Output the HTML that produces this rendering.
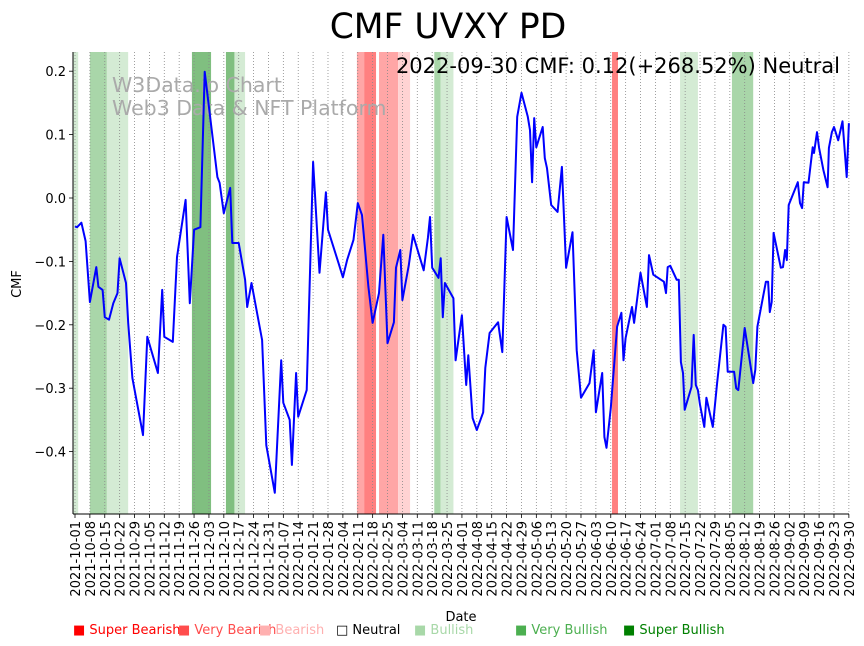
<!DOCTYPE html>
<html><head><meta charset="utf-8"><style>
html,body{margin:0;padding:0;background:#fff;width:864px;height:646px;overflow:hidden}
svg{display:block;font-family:"DejaVu Sans","Liberation Sans",sans-serif}
</style></head><body>
<svg id="chart" width="864" height="646" viewBox="0 0 864 646" xmlns="http://www.w3.org/2000/svg">
<text x="448" y="38" text-anchor="middle" font-size="34.5" fill="#000">CMF UVXY PD</text>
<g id="bands"></g>
<g id="grid"></g>
<text x="112" y="92" font-size="20.5" fill="#aaa">W3Data.io Chart</text>
<text x="112" y="115" font-size="20.5" fill="#aaa">Web3 Data &amp; NFT Platform</text>
<g id="series"></g>
<text x="840" y="73" text-anchor="end" font-size="21" fill="#000">2022-09-30 CMF: 0.12(+268.52%) Neutral</text>
<g id="axes"></g>
<text x="461" y="621" text-anchor="middle" font-size="13">Date</text>
<text transform="translate(21,284) rotate(-90)" text-anchor="middle" font-size="13">CMF</text>
<g id="legend" font-size="13">
<text x="73" y="634" fill="#ff0000">■ Super Bearish</text>
<text x="178" y="634" fill="#ff4c4c">■ Very Bearish</text>
<text x="259" y="634" fill="#ffb0b0">■ Bearish</text>
<text x="336" y="634" fill="#000">□ Neutral</text>
<text x="414" y="634" fill="#a8d8a8">■ Bullish</text>
<text x="515" y="634" fill="#4caf50">■ Very Bullish</text>
<text x="623" y="634" fill="#008000">■ Super Bullish</text>
</g>
</svg>
<script>
const days = [0,1,3,5,7,10,11,13,14,16,18,20,21,24,25,27,32,34,39,41,42,46,48,52,54,56,59,61,67,68,70,73,74,77,80,81,83,88,90,94,97,98,101,102,104,105,109,112,115,118,119,124,126,128,131,133,135,138,140,143,145,147,150,151,153,154,157,159,164,166,167,168,171,172,173,174,178,179,182,184,185,187,189,192,193,195,199,201,203,206,208,210,213,214,215,216,217,220,221,222,224,227,229,231,234,236,238,242,244,245,248,249,250,252,255,257,258,259,262,263,266,269,270,272,277,278,278.8,280,283,284,285,286,286.8,290,291,292,293,294,296,297,300,302,305,306,307,310,311,312,315,317,319,320,321,325,326,326.8,327.7,328.6,332,333,334,334.8,335.7,340,341,342,342.8,345,347,347.6,349,350,352,354,354.6,356,357,359,361,363,364];
const cmfValues = [-0.045,-0.046,-0.039,-0.068,-0.164,-0.109,-0.140,-0.145,-0.188,-0.192,-0.166,-0.150,-0.095,-0.134,-0.197,-0.284,-0.374,-0.219,-0.276,-0.145,-0.219,-0.227,-0.093,-0.003,-0.166,-0.050,-0.046,0.199,0.033,0.024,-0.024,0.016,-0.071,-0.071,-0.129,-0.172,-0.134,-0.224,-0.390,-0.465,-0.256,-0.323,-0.350,-0.421,-0.276,-0.345,-0.303,0.057,-0.118,0.009,-0.050,-0.103,-0.125,-0.098,-0.066,-0.008,-0.027,-0.140,-0.197,-0.150,-0.058,-0.229,-0.196,-0.110,-0.082,-0.161,-0.106,-0.058,-0.114,-0.063,-0.030,-0.110,-0.126,-0.095,-0.188,-0.134,-0.158,-0.256,-0.185,-0.295,-0.248,-0.347,-0.366,-0.338,-0.268,-0.213,-0.196,-0.243,-0.030,-0.082,0.128,0.166,0.128,0.107,0.025,0.126,0.080,0.112,0.063,0.047,-0.011,-0.022,0.049,-0.110,-0.054,-0.240,-0.315,-0.292,-0.240,-0.338,-0.276,-0.377,-0.394,-0.331,-0.203,-0.181,-0.256,-0.221,-0.172,-0.197,-0.118,-0.172,-0.090,-0.121,-0.132,-0.150,-0.109,-0.107,-0.129,-0.129,-0.259,-0.276,-0.334,-0.298,-0.216,-0.295,-0.303,-0.326,-0.361,-0.315,-0.361,-0.292,-0.200,-0.203,-0.274,-0.274,-0.300,-0.303,-0.205,-0.248,-0.292,-0.271,-0.203,-0.132,-0.132,-0.180,-0.164,-0.055,-0.110,-0.109,-0.082,-0.098,-0.011,0.025,-0.008,-0.016,0.025,0.024,0.080,0.071,0.104,0.079,0.044,0.017,0.079,0.104,0.112,0.091,0.121,0.033,0.118];
const bandStart = [-1,7,15,55,71,75,132.6,136,143,152,169,172,252.6,284.6,309];
const bandEnd = [1.5,15,25,64,75,80,136,141.6,152,157.6,172,178,255.4,293,319];
const bandLevel = [1,2,1,3,3,1,-2,-3,-2,-1,2,1,-3,1,2];
const yTicks = [0.2,0.1,0.0,-0.1,-0.2,-0.3,-0.4];
const startDate = new Date(Date.UTC(2021,9,1));
const tickCount = 53;

const NS='http://www.w3.org/2000/svg';
const X0=75, XPD=2.126, Y0=198, YPU=634, TOP=52, BOT=514, LEFT=73;
const xs = d => X0 + d*XPD;
const ys = v => Y0 - v*YPU;
const bandColor = {'-3':'#ff8080','-2':'#ffa6a6','-1':'#ffd3d3','1':'#d4ebd4','2':'#a9d6a9','3':'#80bf80'};
function mk(tag, attrs, parent){const e=document.createElementNS(NS,tag);for(const k in attrs)e.setAttribute(k,attrs[k]);parent.appendChild(e);return e;}

const bands=document.getElementById('bands');
bandStart.forEach((s,i)=>{
  const r=mk('rect',{x:xs(s),y:TOP,width:xs(bandEnd[i])-xs(s),height:BOT-TOP,fill:bandColor[bandLevel[i]]},bands);
  
  
});

const grid=document.getElementById('grid');
const axes=document.getElementById('axes');
for(let i=0;i<tickCount;i++){
  const d=i*7, x=xs(d);
  const gl=mk('line',{x1:x,y1:TOP,x2:x,y2:BOT,stroke:'#888','stroke-width':0.8,'stroke-dasharray':'1,2'},grid);
  
  
  const t=mk('line',{x1:x,y1:BOT,x2:x,y2:BOT+4,stroke:'#000','stroke-width':0.8},axes);
  
  
  const dt=new Date(startDate.getTime()+d*86400000);
  const lab=dt.toISOString().slice(0,10);
  const tx=mk('text',{transform:`translate(${x+5},${BOT+7}) rotate(-90)`,'text-anchor':'end','font-size':13},axes);
  tx.textContent=lab;
  
  
}
yTicks.forEach(v=>{
  const y=ys(v);
  const t=mk('line',{x1:LEFT-4,y1:y,x2:LEFT,y2:y,stroke:'#000','stroke-width':0.8},axes);
  
  
  const tx=mk('text',{x:LEFT-7,y:y+5,'text-anchor':'end','font-size':13},axes);
  tx.textContent=v.toFixed(1).replace('-','−');
  
  
});
const ls=mk('line',{x1:LEFT,y1:TOP,x2:LEFT,y2:BOT,stroke:'#000','stroke-width':1},axes);


const bs=mk('line',{x1:LEFT,y1:BOT,x2:849,y2:BOT,stroke:'#000','stroke-width':1},axes);



const series=document.getElementById('series');
const pts=days.map((d,i)=>xs(d).toFixed(1)+','+ys(cmfValues[i]).toFixed(1)).join(' ');
const pl=mk('polyline',{points:pts,fill:'none',stroke:'#0000ff','stroke-width':2,'stroke-linejoin':'round'},series);


</script>
</body></html>
